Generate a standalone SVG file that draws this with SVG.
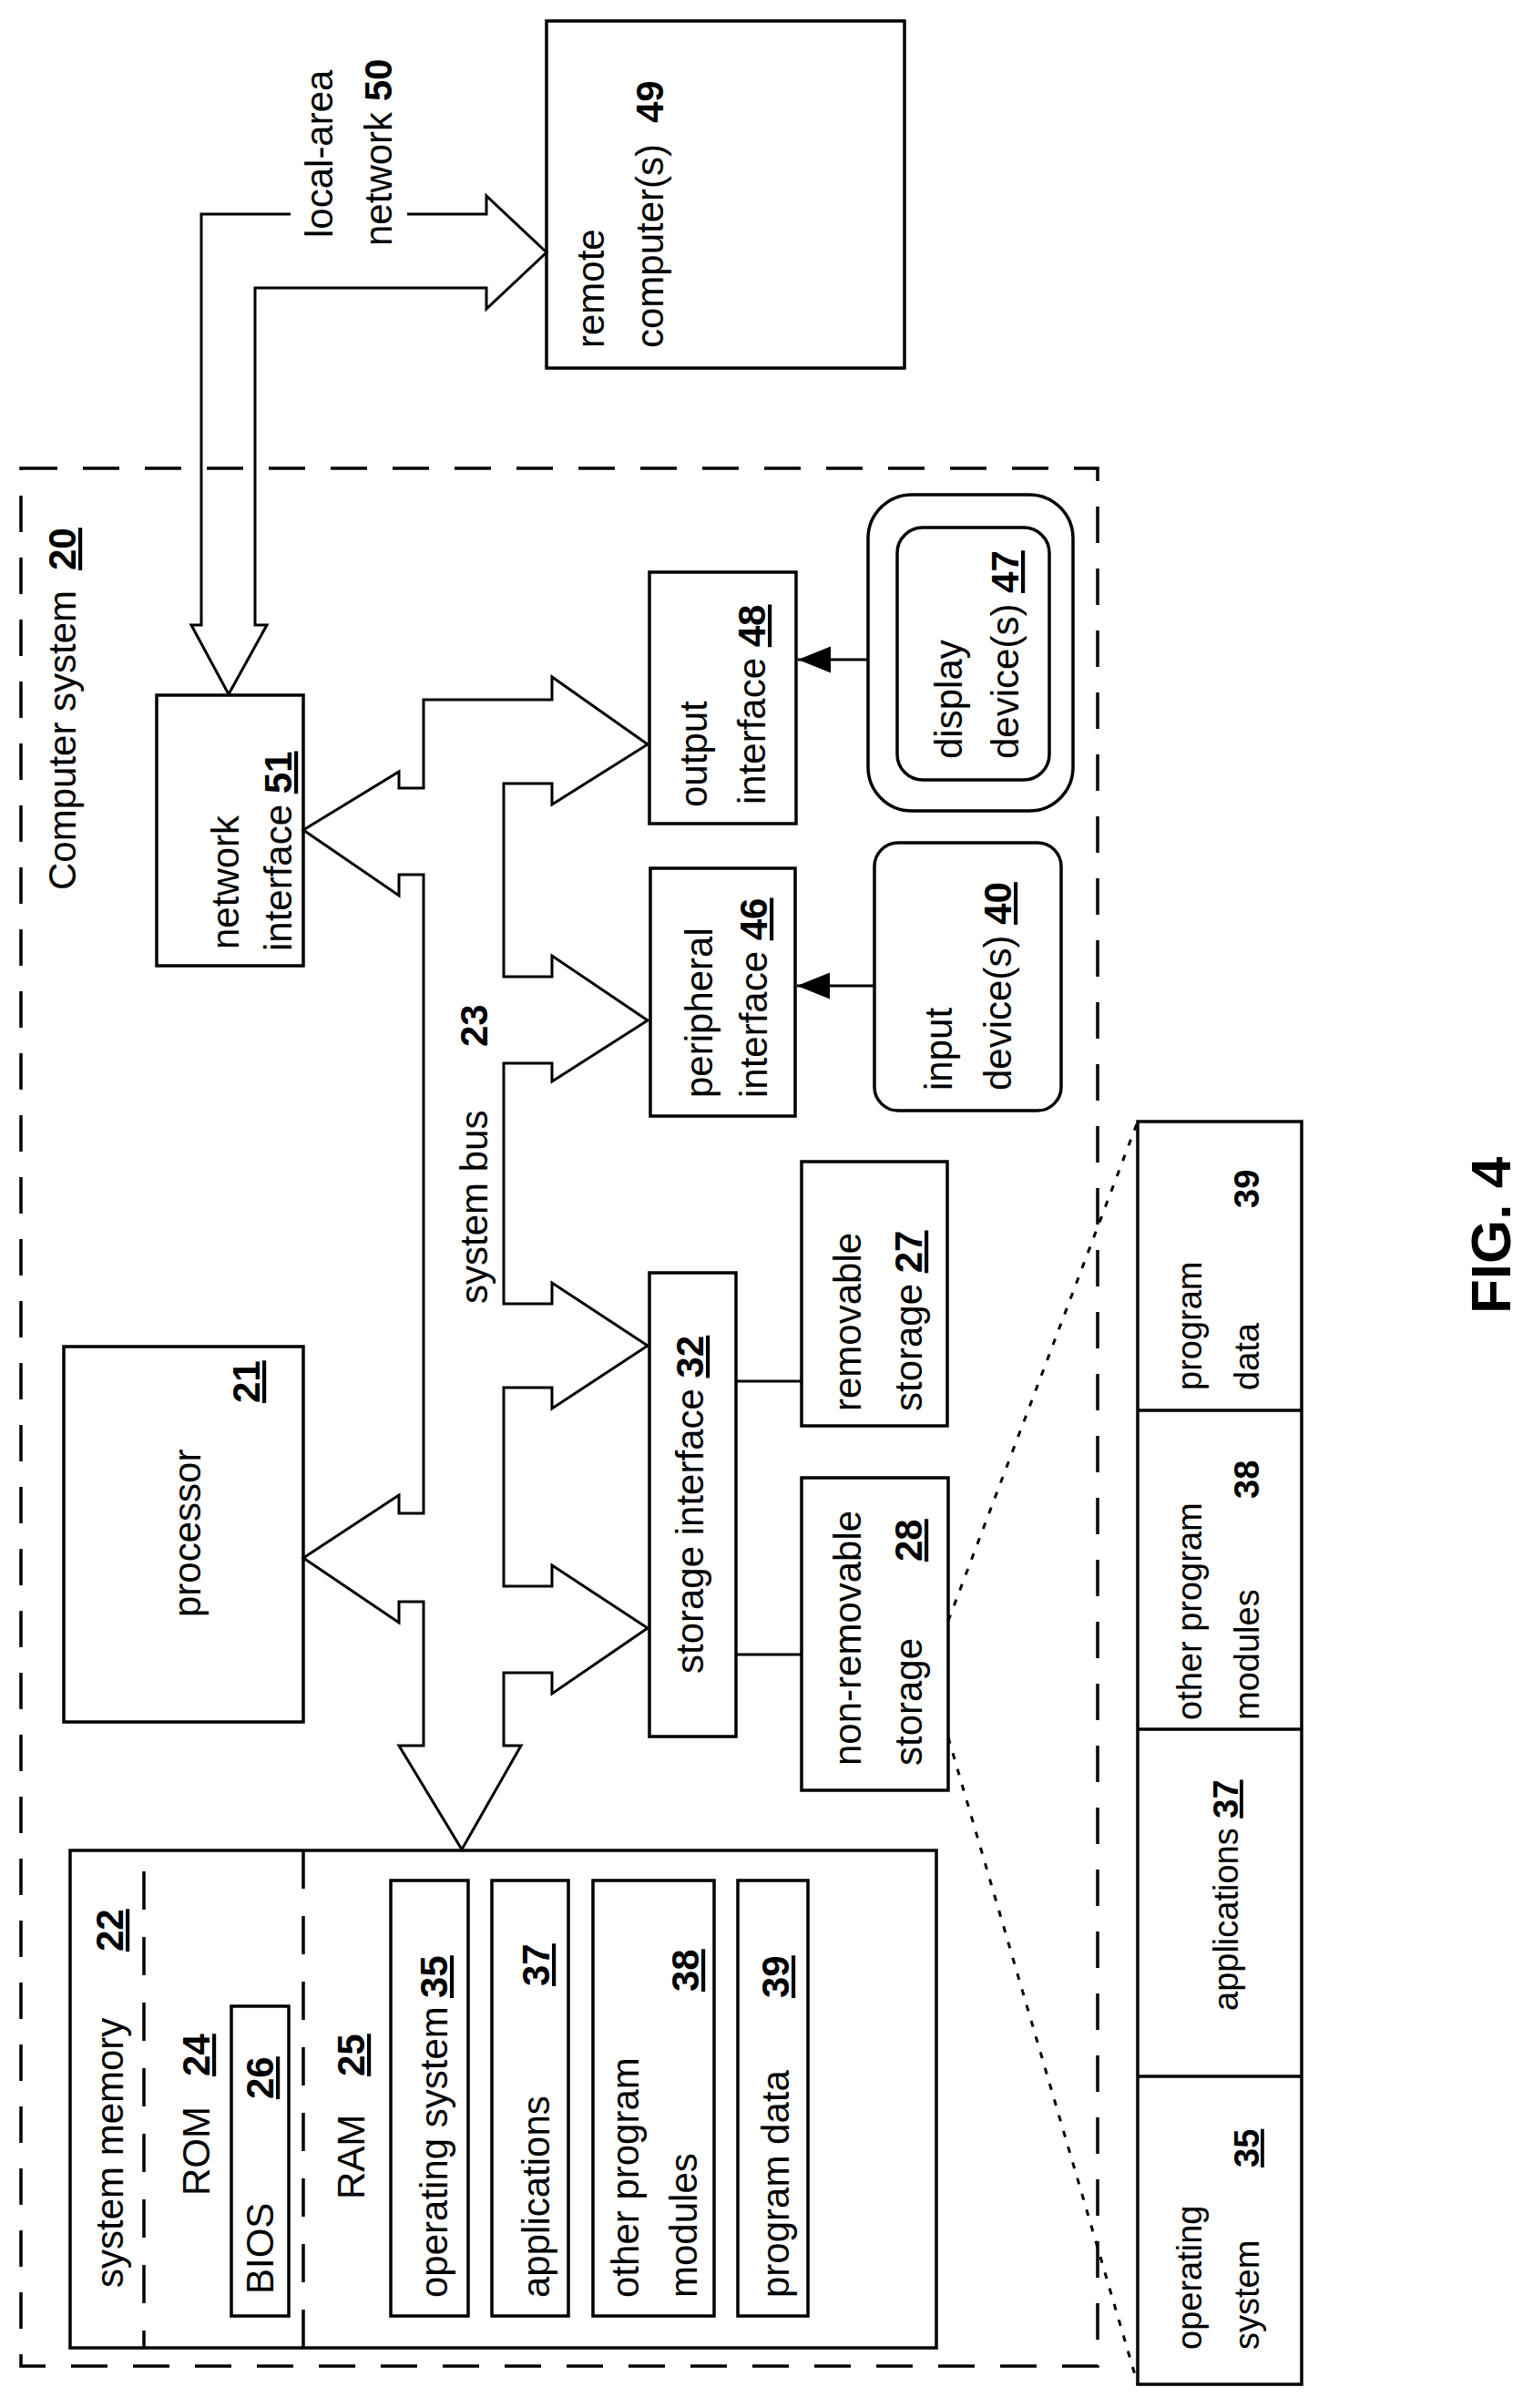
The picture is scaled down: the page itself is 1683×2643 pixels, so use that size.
<svg xmlns="http://www.w3.org/2000/svg" width="1683" height="2643" viewBox="0 0 1683 2643">
<defs>
<style>
.b{fill:none;stroke:#000;stroke-width:3.5}
.d{fill:none;stroke:#000;stroke-width:3.5;stroke-dasharray:40 28}
.e{fill:none;stroke:#000;stroke-width:3;stroke-dasharray:7 11}
.l{fill:none;stroke:#000;stroke-width:3}
text{font-family:"Liberation Sans",Arial,sans-serif;font-size:42px;fill:#000}
.n{font-weight:bold}
.u{font-weight:bold;text-decoration:underline}
.t{font-size:38px}
</style>
<marker id="ah2" viewBox="0 0 10 10" refX="10" refY="5" markerWidth="12" markerHeight="12" orient="auto">
<path d="M0,1 L10,5 L0,9 Z" fill="#000"/>
</marker>
</defs>
<rect width="1683" height="2643" fill="#fff"/>

<g id="computer-system">
<rect class="d" x="23" y="514" width="1182" height="2083"/>
<text transform="translate(83,977) rotate(-90)">Computer system</text>
<text class="u" transform="translate(83,626) rotate(-90)">20</text>
</g>

<g id="remote-computer">
<rect class="b" x="600" y="23" width="393" height="381"/>
<text transform="translate(663,382) rotate(-90)">remote</text>
<text transform="translate(728,382) rotate(-90)">computer(s)</text>
<text class="n" transform="translate(728,135) rotate(-90)">49</text>
</g>

<g id="lan-label">
<text transform="translate(365,261) rotate(-90)">local-area</text>
<text transform="translate(430,270) rotate(-90)">network <tspan class="n">50</tspan></text>
</g>

<g id="network-interface">
<rect class="b" x="172" y="763" width="161" height="297"/>
<text transform="translate(262,1042) rotate(-90)">network</text>
<text transform="translate(320,1044) rotate(-90)">interface <tspan class="u">51</tspan></text>
</g>

<g id="processor">
<rect class="b" x="70" y="1478" width="263" height="412"/>
<text transform="translate(220,1775) rotate(-90)">processor</text>
<text class="u" transform="translate(285,1540) rotate(-90)">21</text>
</g>

<g id="system-memory">
<rect class="b" x="77" y="2031" width="951" height="546"/>
<line class="d" x1="158" y1="2054" x2="158" y2="2577" style="stroke-dasharray:42 30"/>
<line class="d" x1="333" y1="2031" x2="333" y2="2577" style="stroke-dasharray:42 30"/>
<text transform="translate(135,2511) rotate(-90)">system memory</text>
<text class="u" transform="translate(135,2142) rotate(-90)">22</text>
<text transform="translate(230,2410) rotate(-90)">ROM</text>
<text class="u" transform="translate(230,2279) rotate(-90)">24</text>
<rect class="b" x="254" y="2202" width="63" height="340"/>
<text transform="translate(300,2518) rotate(-90)">BIOS</text>
<text class="u" transform="translate(300,2304) rotate(-90)">26</text>
<text transform="translate(400,2414) rotate(-90)">RAM</text>
<text class="u" transform="translate(400,2279) rotate(-90)">25</text>
<rect class="b" x="429" y="2064" width="85" height="478"/>
<text transform="translate(491,2522) rotate(-90)">operating system</text>
<text class="u" transform="translate(491,2193) rotate(-90)">35</text>
<rect class="b" x="540" y="2064" width="84" height="478"/>
<text transform="translate(603,2522) rotate(-90)">applications</text>
<text class="u" transform="translate(603,2180) rotate(-90)">37</text>
<rect class="b" x="651" y="2064" width="133" height="478"/>
<text transform="translate(701,2522) rotate(-90)">other program</text>
<text transform="translate(765,2522) rotate(-90)">modules</text>
<text class="u" transform="translate(767,2186) rotate(-90)">38</text>
<rect class="b" x="810" y="2064" width="77" height="478"/>
<text transform="translate(866,2522) rotate(-90)">program data</text>
<text class="u" transform="translate(866,2193) rotate(-90)">39</text>
</g>

<g id="bus-label">
<text transform="translate(535,1431) rotate(-90)">system bus</text>
<text class="n" transform="translate(535,1149) rotate(-90)">23</text>
</g>

<g id="output-interface">
<rect class="b" x="713" y="628" width="161" height="276"/>
<text transform="translate(776,886) rotate(-90)">output</text>
<text transform="translate(840,883) rotate(-90)">interface <tspan class="u">48</tspan></text>
</g>

<g id="peripheral-interface">
<rect class="b" x="714" y="953" width="159" height="272"/>
<text transform="translate(782,1205) rotate(-90)">peripheral</text>
<text transform="translate(842,1205) rotate(-90)">interface <tspan class="u">46</tspan></text>
</g>

<g id="storage-interface">
<rect class="b" x="713" y="1397" width="95" height="509"/>
<text transform="translate(772,1837) rotate(-90)">storage interface <tspan class="u">32</tspan></text>
</g>

<g id="removable-storage">
<rect class="b" x="880" y="1275" width="160" height="290"/>
<text transform="translate(945,1549) rotate(-90)">removable</text>
<text transform="translate(1012,1549) rotate(-90)">storage <tspan class="u">27</tspan></text>
</g>

<g id="non-removable-storage">
<rect class="b" x="880" y="1622" width="161" height="343"/>
<text transform="translate(945,1938) rotate(-90)">non-removable</text>
<text transform="translate(1012,1938) rotate(-90)">storage</text>
<text class="u" transform="translate(1012,1714) rotate(-90)">28</text>
</g>

<g id="input-devices">
<rect class="b" x="960" y="925" width="205" height="294" rx="26"/>
<text transform="translate(1045,1197) rotate(-90)">input</text>
<text transform="translate(1110,1197) rotate(-90)">device(s) <tspan class="u">40</tspan></text>
</g>

<g id="display-devices">
<rect class="b" x="953" y="543" width="225" height="347" rx="48"/>
<rect class="b" x="985" y="579" width="167" height="277" rx="28"/>
<text transform="translate(1056,833) rotate(-90)">display</text>
<text transform="translate(1118,833) rotate(-90)">device(s) <tspan class="u">47</tspan></text>
</g>

<g id="storage-detail">
<rect class="b" x="1249" y="1231" width="180" height="1386"/>
<line class="b" x1="1249" y1="1548" x2="1429" y2="1548"/>
<line class="b" x1="1249" y1="1898" x2="1429" y2="1898"/>
<line class="b" x1="1249" y1="2279" x2="1429" y2="2279"/>
<text class="t" transform="translate(1319,2579) rotate(-90)">operating</text>
<text class="t" transform="translate(1382,2579) rotate(-90)">system</text>
<text class="t u" transform="translate(1382,2379) rotate(-90)">35</text>
<text class="t" transform="translate(1359,2207) rotate(-90)">applications <tspan class="u">37</tspan></text>
<text class="t" transform="translate(1319,1888) rotate(-90)">other program</text>
<text class="t" transform="translate(1382,1888) rotate(-90)">modules</text>
<text class="t n" transform="translate(1382,1645) rotate(-90)">38</text>
<text class="t" transform="translate(1319,1526) rotate(-90)">program</text>
<text class="t" transform="translate(1382,1526) rotate(-90)">data</text>
<text class="t n" transform="translate(1382,1326) rotate(-90)">39</text>
</g>

<g id="connectors">
<path class="l" d="M319,235 L221,235 L221,686 L210,686 L251,762 L293,686 L280,686 L280,316 L534,316 L534,339 L600,277 L534,215 L534,235 L447,235"/>
<path class="l" d="M333,911 L438,847 L438,865 L465,865 L465,768 L606,768 L606,743 L711,817 L606,883 L606,860 L553,860 L553,1072 L606,1072 L606,1049 L711,1120 L606,1187 L606,1167 L553,1167 L553,1431 L606,1431 L606,1408 L711,1477 L606,1546 L606,1523 L553,1523 L553,1741 L606,1741 L606,1718 L711,1787 L606,1859 L606,1836 L553,1836 L553,1916 L572,1916 L507,2030 L438,1916 L465,1916 L465,1758 L438,1758 L438,1781 L333,1710 L438,1641 L438,1661 L465,1661 L465,960 L438,960 L438,983 Z"/>
<line class="l" x1="808" y1="1516" x2="880" y2="1516"/>
<line class="l" x1="808" y1="1816" x2="880" y2="1816"/>
<line class="l" x1="960" y1="1082" x2="875" y2="1082" marker-end="url(#ah2)"/>
<line class="l" x1="953" y1="724" x2="876" y2="724" marker-end="url(#ah2)"/>
<line class="e" x1="1041" y1="1779" x2="1249" y2="1231"/>
<line class="e" x1="1041" y1="1907" x2="1249" y2="2617"/>
</g>

<g id="fig-label">
<text class="n" style="font-size:62px" transform="translate(1658,1442) rotate(-90)">FIG. 4</text>
</g>
</svg>
